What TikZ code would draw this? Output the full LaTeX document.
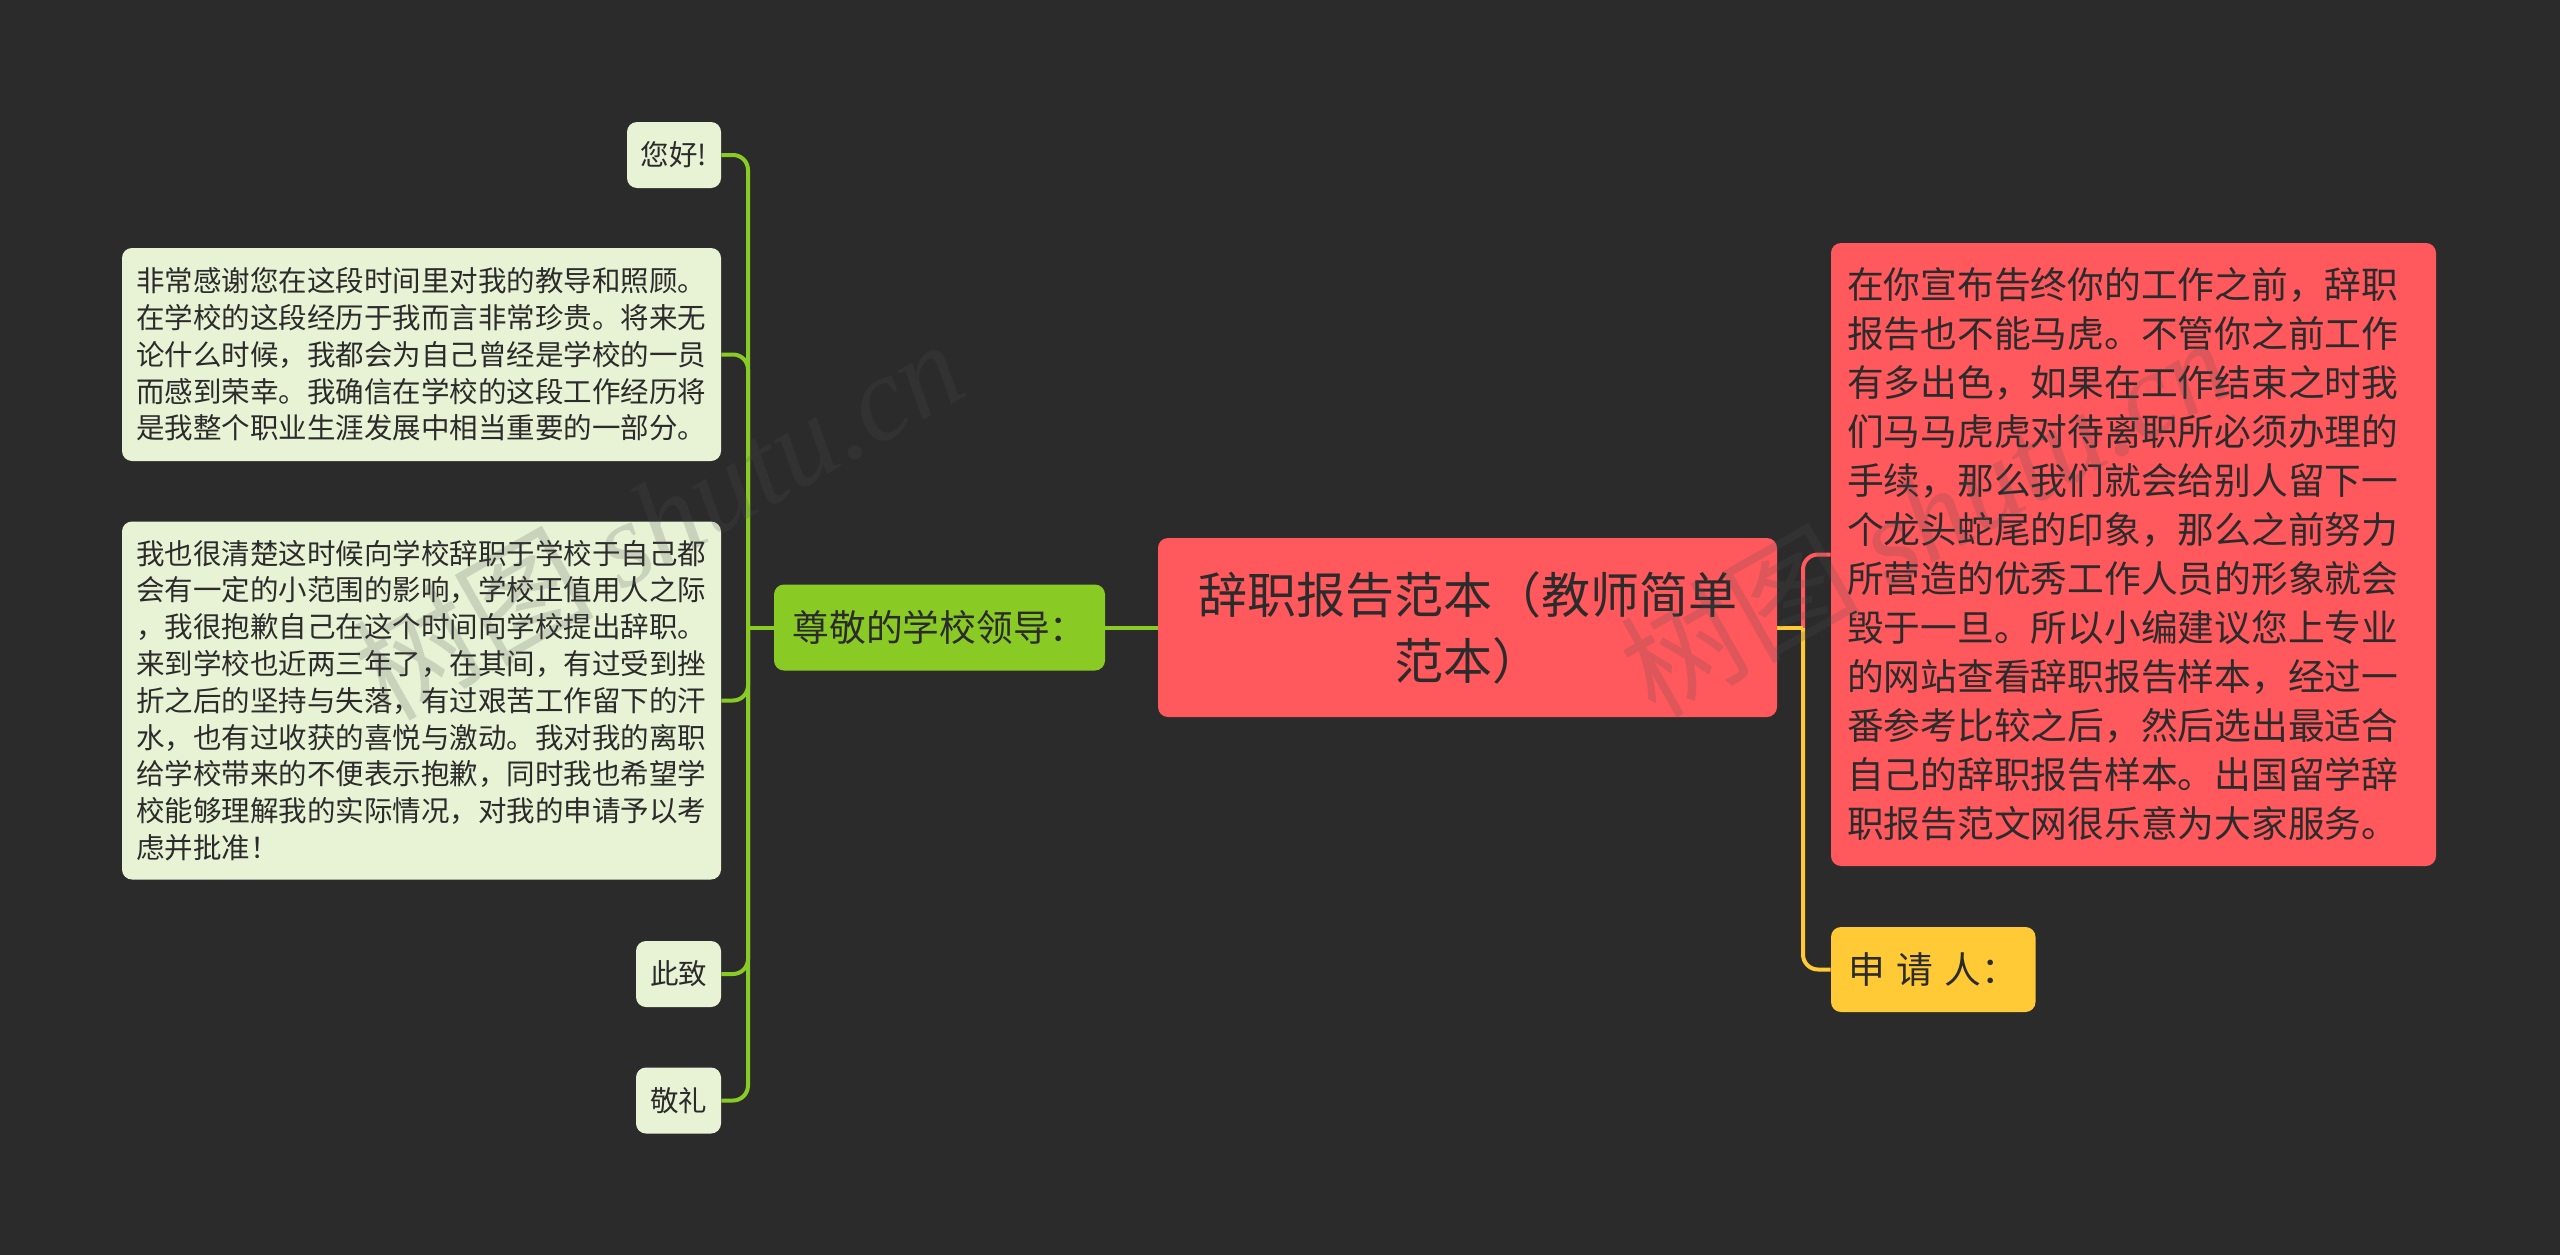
\documentclass[tikz,border=0pt]{standalone}
\usepackage{fontspec}
\setmainfont{Noto Sans CJK SC}
\newfontfamily\markfont{Liberation Serif}
\usetikzlibrary{positioning}

\definecolor{bgdark}{HTML}{2B2B2B}
\definecolor{leafgreen}{HTML}{E8F3D5}
\definecolor{branchgreen}{HTML}{8ACA25}
\definecolor{rootred}{HTML}{FF585D}
\definecolor{signyellow}{HTML}{FFCA35}
\definecolor{markgray}{HTML}{505050}

\begin{document}
\begin{tikzpicture}[
	x = 1pt,
	y = -1pt,
	semithick]
	\tikzstyle{every node}=[
	inner sep = 0pt,
	text = bgdark]
	\tikzstyle{box}=[
	rounded corners = 10pt,
	align = left]
	\tikzstyle{leaf}=[
	box,
	fill = leafgreen,
	font = \fontsize{28.5}{36.8}\selectfont]
	\tikzstyle{big}=[
	box,
	font = \fontsize{36.75}{49}\selectfont]
	\tikzstyle{link}=[
	line width = 4pt,
	rounded corners = 15pt]
	\tikzstyle{watermark}=[
	rotate = 29.5,
	text = markgray,
	text opacity = 0.2,
	font = \fontsize{120}{120}\selectfont]

	\fill[bgdark] (0,0) rectangle (2560,1255);
	\useasboundingbox (0,0) rectangle (2560,1255);

	\node[box,fill=rootred,minimum width=619pt,minimum height=179pt,align=center,font=\fontsize{49}{66}\selectfont] (root) at (1467.5,627.5) {辞职报告范本（教师简单\\范本）};
	\node[big,fill=branchgreen,minimum width=331pt,minimum height=86pt] (g) at (939.5,627.5) {尊敬的学校领导：};
	\node[big,fill=rootred,text width=573pt,inner xsep=16pt,minimum height=623pt] (r) at (2133.5,554.5) {在你宣布告终你的工作之前，辞职\\报告也不能马虎。不管你之前工作\\有多出色，如果在工作结束之时我\\们马马虎虎对待离职所必须办理的\\手续，那么我们就会给别人留下一\\个龙头蛇尾的印象，那么之前努力\\所营造的优秀工作人员的形象就会\\毁于一旦。所以小编建议您上专业\\的网站查看辞职报告样本，经过一\\番参考比较之后，然后选出最适合\\自己的辞职报告样本。出国留学辞\\职报告范文网很乐意为大家服务。};
	\node[big,fill=signyellow,minimum width=204.5pt,minimum height=85pt] (y) at (1933.25,969.5) {申 \hspace{3pt}请 \hspace{3pt}人：};

	\node[leaf,minimum width=94pt,minimum height=66pt] (a) at (674,155) {您好!};
	\node[leaf,text width=571pt,inner xsep=14pt,minimum height=213pt] (b) at (421.5,354.5) {非常感谢您在这段时间里对我的教导和照顾。\\在学校的这段经历于我而言非常珍贵。将来无\\论什么时候，我都会为自己曾经是学校的一员\\而感到荣幸。我确信在学校的这段工作经历将\\是我整个职业生涯发展中相当重要的一部分。};
	\node[leaf,text width=571pt,inner xsep=14pt,minimum height=358pt] (c) at (421.5,700.5) {我也很清楚这时候向学校辞职于学校于自己都\\会有一定的小范围的影响，学校正值用人之际\\，我很抱歉自己在这个时间向学校提出辞职。\\来到学校也近两三年了，在其间，有过受到挫\\折之后的坚持与失落，有过艰苦工作留下的汗\\水，也有过收获的喜悦与激动。我对我的离职\\给学校带来的不便表示抱歉，同时我也希望学\\校能够理解我的实际情况，对我的申请予以考\\虑并批准！};
	\node[leaf,minimum width=85pt,minimum height=66pt] (d) at (678.5,974) {此致};
	\node[leaf,minimum width=85pt,minimum height=66pt] (e) at (678.5,1100.5) {敬礼};

	\coordinate (lt) at (748,627.5);
	\coordinate (rt) at (1803,627.5);

	\path[draw=branchgreen,link] (root.west) -- (g.east);
	\path[draw=branchgreen,link] (g.west) -- (lt);
	\draw[branchgreen,link] (lt) |- (a.east);
	\draw[branchgreen,link] (lt) |- (b.east);
	\draw[branchgreen,link] (lt) |- (c.east);
	\draw[branchgreen,link] (lt) |- (d.east);
	\draw[branchgreen,link] (lt) |- (e.east);
	\draw[rootred,link] (rt) |- (r.west);
	\draw[signyellow,link] (root.east) -- (rt);
	\draw[signyellow,link] (rt) |- (y.west);

	\node[watermark] (m1) at (658,518) {树图 {\markfont\itshape shutu.cn}};
	\node[watermark] (m2) at (1925,515) {树图 {\markfont\itshape shutu.cn}};
\end{tikzpicture}
\end{document}
